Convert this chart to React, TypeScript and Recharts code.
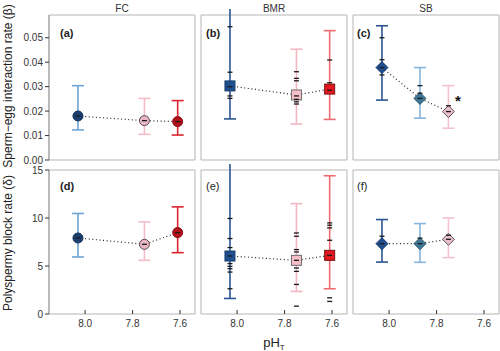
import React from 'react';
import { ScatterChart, Scatter, XAxis, YAxis, ErrorBar, ReferenceArea } from 'recharts';

// axis ticks and labels
const xTicks = [8.0, 7.8, 7.6];
const betaTicks = [0, 0.01, 0.02, 0.03, 0.04, 0.05];
const deltaTicks = [0, 5, 10, 15];
const columnTitles = ['FC', 'BMR', 'SB'];
const panelLetters = ['(a)', '(b)', '(c)', '(d)', '(e)', '(f)'];

// FC
const fcPh = [8.03, 7.75, 7.61];
const fcBeta = [0.018, 0.0161, 0.0157];
const fcBetaLow = [0.0123, 0.0105, 0.0102];
const fcBetaHigh = [0.0304, 0.0252, 0.0243];
const fcDelta = [7.92, 7.26, 8.48];
const fcDeltaLow = [5.94, 5.59, 6.39];
const fcDeltaHigh = [10.47, 9.59, 11.16];

// BMR
const bmrPh = [8.03, 7.75, 7.61];
const bmrBeta = [0.0303, 0.0266, 0.029];
const bmrBetaLow = [0.0168, 0.0147, 0.0166];
const bmrBetaHigh = [0.08, 0.0453, 0.0529];
const bmrDelta = [6.04, 5.59, 6.11];
const bmrDeltaLow = [1.62, 2.35, 2.63];
const bmrDeltaHigh = [22, 11.5, 14.4];

// SB
const sbPh = [8.03, 7.87, 7.75];
const sbBeta = [0.0378, 0.0252, 0.0198];
const sbBetaLow = [0.0245, 0.0171, 0.013];
const sbBetaHigh = [0.0549, 0.0378, 0.0304];
const sbDelta = [7.33, 7.33, 7.78];
const sbDeltaLow = [5.41, 5.38, 5.87];
const sbDeltaHigh = [9.84, 9.42, 10.0];

// individual estimates (small black dashes), one list per treatment
const fcBetaDashes = [[0.018], [0.0161], [0.0157]];
const fcDeltaDashes = [[7.92], [7.26], [8.48]];
const bmrBetaDashes = [
  [0.0545, 0.0359, 0.03, 0.0262, 0.0252],
  [0.0361, 0.0334, 0.0324, 0.0262, 0.0248, 0.0238, 0.0229],
  [0.0409, 0.0316, 0.0285],
];
const bmrDeltaDashes = [
  [9.95, 7.86, 6.92, 6.04, 5.25, 4.96, 4.72, 4.37, 2.63],
  [8.44, 8.1, 6.71, 6.46, 5.59, 4.79, 4.44, 3.08, 0.82],
  [9.49, 9.25, 8.97, 7.68, 6.11, 1.69, 1.31],
];
const sbBetaDashes = [[0.05, 0.041, 0.0378, 0.0348], [0.0304, 0.0273, 0.0252], [0.0222, 0.0198]];
const sbDeltaDashes = [[8.1, 7.33], [7.9, 7.33], [8.2, 7.78]];

const sbAsterisk = [{ x: 7.71, y: 0.0245 }];

const xDomain: [number, number] = [7.537, 8.152];

type Style = { kind: 'circle' | 'square' | 'diamond'; fill: string; stroke: string; bar: string };

const fcStyles: Style[] = [
  { kind: 'circle', fill: '#1c3f70', stroke: '#14305a', bar: '#6fa5d5' },
  { kind: 'circle', fill: '#e8b7c3', stroke: '#5a4a50', bar: '#f3bcc7' },
  { kind: 'circle', fill: '#b3121b', stroke: '#8a0e14', bar: '#d8262e' },
];
const bmrStyles: Style[] = [
  { kind: 'square', fill: '#1f4f8f', stroke: '#173b6b', bar: '#2b5592' },
  { kind: 'square', fill: '#f7c0c9', stroke: '#6b6b6b', bar: '#f3b7c2' },
  { kind: 'square', fill: '#e2161c', stroke: '#7a1010', bar: '#ee6c70' },
];
const sbStyles: Style[] = [
  { kind: 'diamond', fill: '#1f4f8f', stroke: '#173b6b', bar: '#2b5592' },
  { kind: 'diamond', fill: '#3f7895', stroke: '#2a5468', bar: '#86b4da' },
  { kind: 'diamond', fill: '#ecc0cb', stroke: '#555555', bar: '#f4c2cd' },
];

const font = '"Liberation Sans", Arial, sans-serif';

function rows(ph: number[], mean: number[], lo: number[], hi: number[]) {
  return ph.map((x, i) => ({ x, y: mean[i], e: [mean[i] - lo[i], hi[i] - mean[i]] }));
}

const markerShape = (s: Style) => (p: any) => {
  const { cx, cy } = p;
  if (s.kind === 'circle') return <circle cx={cx} cy={cy} r={5} fill={s.fill} stroke={s.stroke} strokeWidth={1} />;
  if (s.kind === 'square')
    return <rect x={cx - 5} y={cy - 5} width={10} height={10} fill={s.fill} stroke={s.stroke} strokeWidth={1} />;
  return (
    <path
      d={`M${cx},${cy - 6}L${cx + 6},${cy}L${cx},${cy + 6}L${cx - 6},${cy}Z`}
      fill={s.fill}
      stroke={s.stroke}
      strokeWidth={1}
    />
  );
};

const dashShape = (p: any) => (
  <line x1={p.cx - 2.5} x2={p.cx + 2.5} y1={p.cy} y2={p.cy} stroke="#1a1a1a" strokeWidth={1.3} />
);

const noShape = () => <g />;

const asteriskShape = (p: any) => (
  <text x={p.cx} y={p.cy + 6} textAnchor="middle" fontSize={15} fontWeight="bold" fill="#111" fontFamily={font}>
    *
  </text>
);

const XTick = (p: any) => (
  <g>
    <line x1={p.x} x2={p.x} y1={p.y - 4} y2={p.y} stroke="#333" />
    <text x={p.x} y={p.y + 13} textAnchor="middle" fontSize={10} fill="#333" fontFamily={font}>
      {Number(p.payload.value).toFixed(1)}
    </text>
  </g>
);

interface PanelProps {
  left: number;
  top: number;
  plotH: number;
  showY: boolean;
  showX: boolean;
  yDomain: [number, number];
  yTicks: number[];
  yFmt: (v: number) => string;
  ph: number[];
  mean: number[];
  lo: number[];
  hi: number[];
  dashes: number[][];
  styles: Style[];
  extra?: { x: number; y: number }[];
}

function Panel({ left, top, plotH, showY, showX, yDomain, yTicks, yFmt, ph, mean, lo, hi, dashes, styles, extra }: PanelProps) {
  const data = rows(ph, mean, lo, hi);
  const yW = showY ? 49 : 0;
  const width = yW + 146 + (showY ? 1 : 2);
  const height = 6 + plotH + (showX ? 30 : 6);
  const dashData = dashes.flatMap((list, i) => list.map((y) => ({ x: ph[i], y })));
  return (
    <div style={{ position: 'absolute', left: left - (showY ? 49 : 1), top: top - 6 }}>
      <ScatterChart
        width={width}
        height={height}
        margin={{ top: 6, right: 1, bottom: showX ? 0 : 6, left: showY ? 0 : 1 }}
      >
        <XAxis
          type="number"
          dataKey="x"
          domain={xDomain}
          reversed
          allowDataOverflow
          hide={!showX}
          height={30}
          ticks={xTicks}
          tick={<XTick />}
          tickSize={0}
          tickMargin={0}
          tickLine={false}
          axisLine={false}
          interval={0}
        />
        <YAxis
          type="number"
          dataKey="y"
          domain={yDomain}
          allowDataOverflow
          hide={!showY}
          width={49}
          ticks={yTicks}
          interval={0}
          tickFormatter={yFmt}
          tickSize={4}
          tickMargin={2}
          tick={{ fontSize: 10, fill: '#333', fontFamily: font }}
          tickLine={{ stroke: '#333' }}
          axisLine={{ stroke: '#999' }}
        />
        <ReferenceArea
          x1={xDomain[0]}
          x2={xDomain[1]}
          y1={yDomain[0]}
          y2={yDomain[1]}
          fill="none"
          stroke="#b5b5b5"
          strokeWidth={1}
          ifOverflow="visible"
        />
        <Scatter
          data={data}
          shape={noShape}
          line={{ stroke: '#222', strokeWidth: 1.2, strokeDasharray: '1 2.6' }}
          isAnimationActive={false}
        />
        {data.map((d, i) => (
          <Scatter key={i} data={[d]} shape={markerShape(styles[i])} isAnimationActive={false}>
            <ErrorBar dataKey="e" direction="y" width={6} stroke={styles[i].bar} strokeWidth={1.6} />
          </Scatter>
        ))}
        <Scatter data={dashData} shape={dashShape} isAnimationActive={false} />
        {extra && <Scatter data={extra} shape={asteriskShape} isAnimationActive={false} />}
      </ScatterChart>
    </div>
  );
}

const colLeft = [49, 201, 353];
const colCenter = colLeft.map((l) => l + 73);

export default function App() {
  const betaFmt = (v: number) => v.toFixed(2);
  const deltaFmt = (v: number) => String(v);
  const betaDomain: [number, number] = [0, 0.0593];
  const deltaDomain: [number, number] = [0, 15];
  return (
    <div style={{ position: 'absolute', left: 0, top: 0, width: 500, height: 351, background: '#fff', fontFamily: font }}>
      <Panel left={colLeft[0]} top={15} plotH={145} showY showX={false} yDomain={betaDomain} yTicks={betaTicks} yFmt={betaFmt}
        ph={fcPh} mean={fcBeta} lo={fcBetaLow} hi={fcBetaHigh} dashes={fcBetaDashes} styles={fcStyles} />
      <Panel left={colLeft[1]} top={15} plotH={145} showY={false} showX={false} yDomain={betaDomain} yTicks={betaTicks} yFmt={betaFmt}
        ph={bmrPh} mean={bmrBeta} lo={bmrBetaLow} hi={bmrBetaHigh} dashes={bmrBetaDashes} styles={bmrStyles} />
      <Panel left={colLeft[2]} top={15} plotH={145} showY={false} showX={false} yDomain={betaDomain} yTicks={betaTicks} yFmt={betaFmt}
        ph={sbPh} mean={sbBeta} lo={sbBetaLow} hi={sbBetaHigh} dashes={sbBetaDashes} styles={sbStyles} extra={sbAsterisk} />
      <Panel left={colLeft[0]} top={170} plotH={144} showY showX yDomain={deltaDomain} yTicks={deltaTicks} yFmt={deltaFmt}
        ph={fcPh} mean={fcDelta} lo={fcDeltaLow} hi={fcDeltaHigh} dashes={fcDeltaDashes} styles={fcStyles} />
      <Panel left={colLeft[1]} top={170} plotH={144} showY={false} showX yDomain={deltaDomain} yTicks={deltaTicks} yFmt={deltaFmt}
        ph={bmrPh} mean={bmrDelta} lo={bmrDeltaLow} hi={bmrDeltaHigh} dashes={bmrDeltaDashes} styles={bmrStyles} />
      <Panel left={colLeft[2]} top={170} plotH={144} showY={false} showX yDomain={deltaDomain} yTicks={deltaTicks} yFmt={deltaFmt}
        ph={sbPh} mean={sbDelta} lo={sbDeltaLow} hi={sbDeltaHigh} dashes={sbDeltaDashes} styles={sbStyles} />

      <svg width={500} height={351} style={{ position: 'absolute', left: 0, top: 0, pointerEvents: 'none' }}>
        {columnTitles.map((t, i) => (
          <text key={t} x={colCenter[i]} y={12} textAnchor="middle" fontSize={10} fill="#333" fontFamily={font}>
            {t}
          </text>
        ))}
        {panelLetters.map((t, i) => {
          const col = i % 3;
          const row = Math.floor(i / 3);
          const xs = [60, 206, 357];
          return (
            <text key={t} x={xs[col]} y={row === 0 ? 37 : 190} fontSize={11} fontWeight={row === 0 || col === 0 ? 'bold' : 'normal'}
              fill="#222" fontFamily={font}>
              {t}
            </text>
          );
        })}
        <text transform="translate(12,86) rotate(-90)" textAnchor="middle" fontSize={12} fill="#222" fontFamily={font}>
          Sperm−egg interaction rate (β)
        </text>
        <text transform="translate(12,243) rotate(-90)" textAnchor="middle" fontSize={12} fill="#222" fontFamily={font}>
          Polyspermy block rate (δ)
        </text>
        <text x={274} y={347} textAnchor="middle" fontSize={13} fill="#222" fontFamily={font}>
          pH<tspan fontSize={8} dy={3}>T</tspan>
        </text>
      </svg>
    </div>
  );
}
